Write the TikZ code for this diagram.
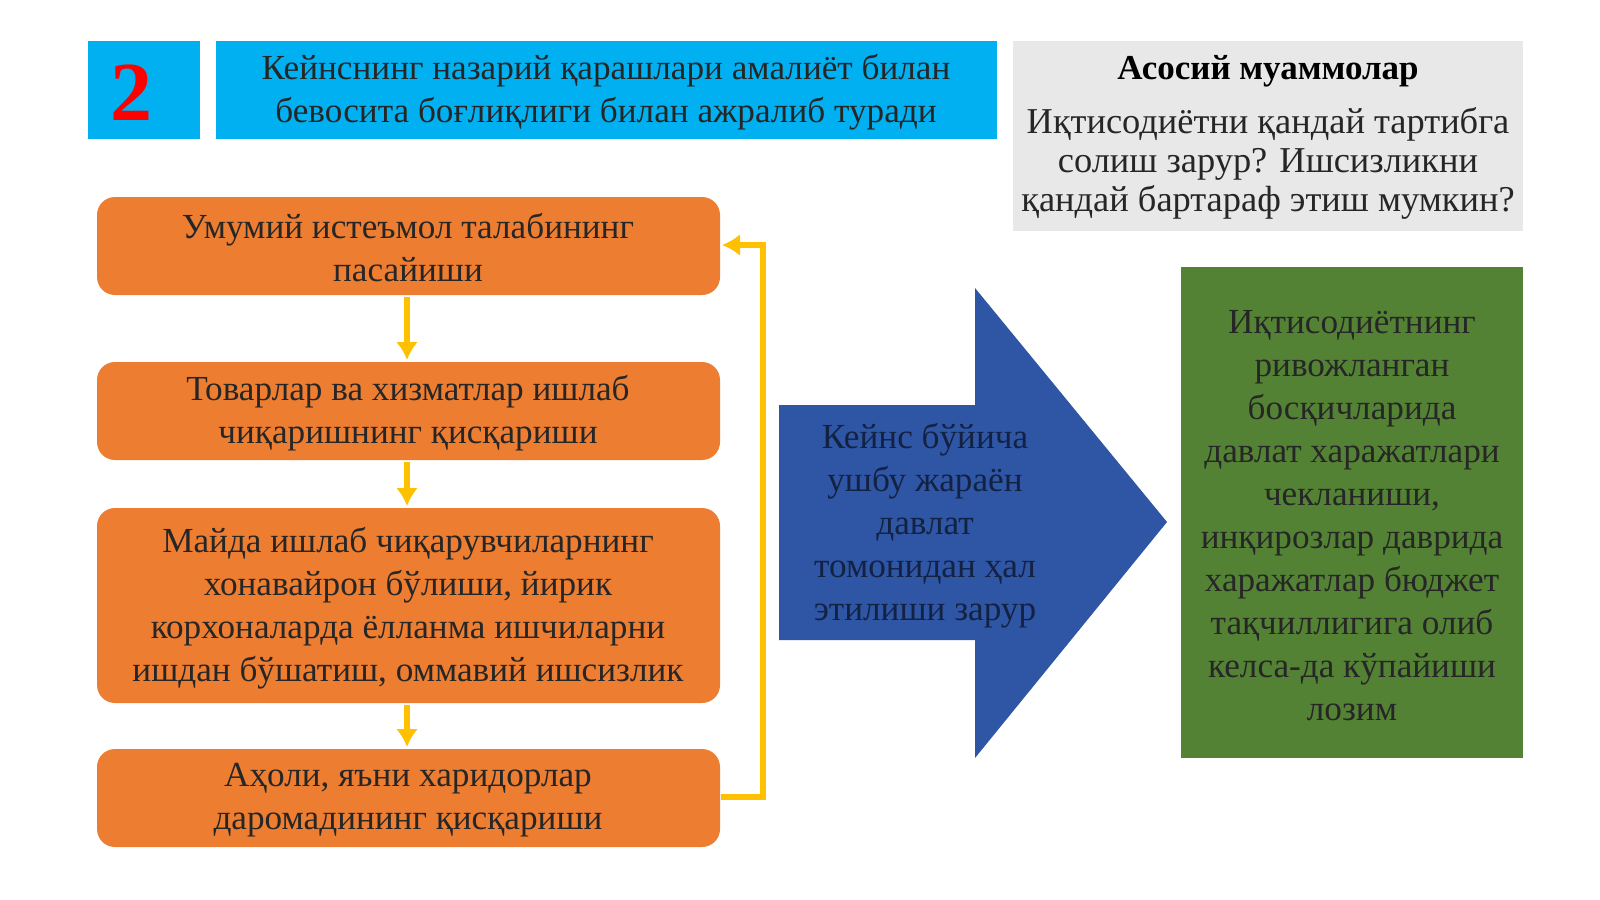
\documentclass[tikz,border=0pt]{standalone}
\usepackage{fontspec}
\setmainfont{Liberation Serif}
\usetikzlibrary{arrows.meta}
\definecolor{orangeC}{HTML}{ED7D31}
\definecolor{yel}{HTML}{FFC000}
\definecolor{cyanC}{HTML}{00B0F0}
\definecolor{navy}{HTML}{2F55A5}
\definecolor{greenC}{HTML}{548235}
\begin{document}
\begin{tikzpicture}[x=0.5pt,y=-0.5pt,
 txt/.style={font=\fontsize{17.6}{21.5}\selectfont,align=center},
 obox/.style={fill=orangeC,rounded corners=9pt},
 yarr/.style={draw=yel,line width=2.8pt,-{Latex[length=9pt,width=11pt]}}]
\useasboundingbox (0,0) rectangle (1600,899);
\fill[cyanC] (88,41) rectangle (200,139);
\node[font=\fontsize{42}{44}\selectfont\bfseries,text=red] (n2) at (131,93) {2};
\fill[cyanC] (216,41) rectangle (997,139);
\node[txt,text=black!85] (t1) at (606,92) {Кейнснинг назарий қарашлари амалиёт билан\\бевосита боғлиқлиги билан ажралиб туради};
\fill[gray!18] (1013,41) rectangle (1523,231);
\node[txt,font=\fontsize{17.5}{21.5}\selectfont\bfseries] (h) at (1268,71) {Асосий муаммолар};
\node[txt,font=\fontsize{18.2}{19.5}\selectfont,text=black!85] (q) at (1268,163) {Иқтисодиётни қандай тартибга\\солиш зарур? Ишсизликни\\қандай бартараф этиш мумкин?};
\path[obox] (97,197) rectangle (720,295);
\node[txt,text=black!85] (b1) at (408,248) {Умумий истеъмол талабининг\\пасайиши};
\path[obox] (97,362) rectangle (720,460);
\node[txt,text=black!85] (b2) at (408,413) {Товарлар ва хизматлар ишлаб\\чиқаришнинг қисқариши};
\path[obox] (97,508) rectangle (720,703);
\node[txt,text=black!85] (b3) at (408,608) {Майда ишлаб чиқарувчиларнинг\\хонавайрон бўлиши, йирик\\корхоналарда ёлланма ишчиларни\\ишдан бўшатиш, оммавий ишсизлик};
\path[obox] (97,749) rectangle (720,847);
\node[txt,text=black!85] (b4) at (408,800) {Аҳоли, яъни харидорлар\\даромадининг қисқариши};
\coordinate (a1) at (407,297); \coordinate (a2) at (407,360);
\coordinate (a3) at (407,462); \coordinate (a4) at (407,506);
\coordinate (a5) at (407,705); \coordinate (a6) at (407,747);
\draw[yarr] (a1)--(a2); \draw[yarr] (a3)--(a4); \draw[yarr] (a5)--(a6);
\coordinate (f1) at (721,797); \coordinate (f2) at (722,245);
\draw[yarr] (f1) -- (763,797) -- (763,245) -- (f2);
\fill[navy] (779,405) -- (975,405) -- (975,288) -- (1167,522) -- (975,758) -- (975,640) -- (779,640) -- cycle;
\node[txt,text=navy!40!black] (k) at (925,526) {Кейнс бўйича\\ушбу жараён\\давлат\\томонидан ҳал\\этилиши зарур};
\fill[greenC] (1181,267) rectangle (1523,758);
\node[txt,text=black!85] (g) at (1352,516) {Иқтисодиётнинг\\ривожланган\\босқичларида\\давлат харажатлари\\чекланиши,\\инқирозлар даврида\\харажатлар бюджет\\тақчиллигига олиб\\келса-да кўпайиши\\лозим};
\end{tikzpicture}
\end{document}
